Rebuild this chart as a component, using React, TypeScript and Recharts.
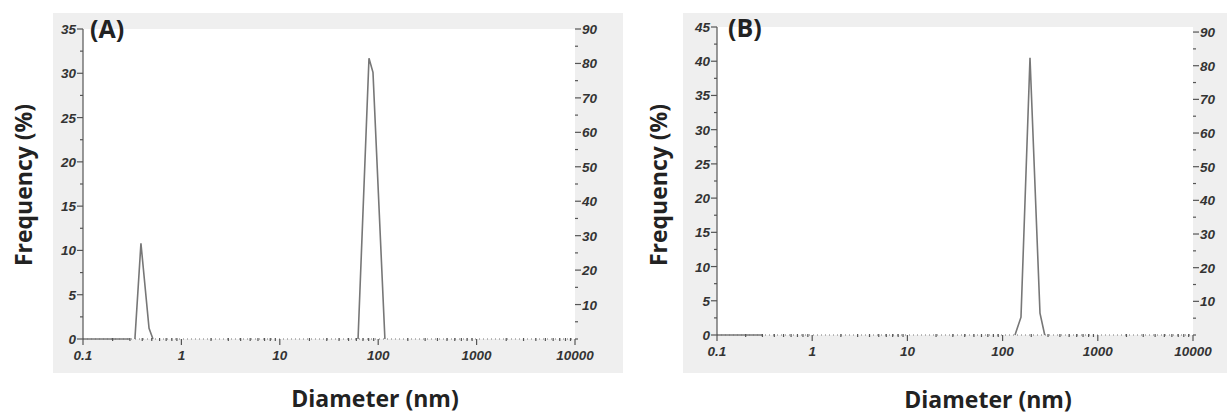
import { LineChart, Line, XAxis, YAxis, CartesianGrid } from 'recharts';

// panel A: baseline stub, small peak, main peak
const aBaseSize = [0.1, 0.3];
const aBaseFreq = [0, 0];
const aPeak1Size = [0.337, 0.388, 0.469, 0.514];
const aPeak1Freq = [0, 10.8, 1.2, 0];
const aPeak2Size = [62.4, 80.6, 88.5, 117];
const aPeak2Freq = [0, 31.7, 30.1, 0];

// panel B: baseline stub, single peak
const bBaseSize = [0.1, 0.3];
const bBaseFreq = [0, 0];
const bPeakSize = [135, 156, 194, 247, 277];
const bPeakFreq = [0, 2.6, 40.5, 3.2, 0];

const decades = [0.1, 1, 10, 100, 1000, 10000];
const decadeLabels = ['0.1', '1', '10', '100', '1000', '10000'];
const rightTicks = [0, 5, 10, 15, 20, 25, 30, 35, 40, 45, 50, 55, 60, 65, 70, 75, 80, 85, 90];
const leftTicksA = [0, 2.5, 5, 7.5, 10, 12.5, 15, 17.5, 20, 22.5, 25, 27.5, 30, 32.5, 35];
const leftTicksB = [0, 2.5, 5, 7.5, 10, 12.5, 15, 17.5, 20, 22.5, 25, 27.5, 30, 32.5, 35, 37.5, 40, 42.5, 45];

const xTicks: number[] = [];
decades.forEach((d, i) => {
  xTicks.push(d);
  if (i < decades.length - 1) {
    for (let m = 2; m <= 9; m++) xTicks.push(Number((m * d).toPrecision(3)));
  }
});

const toRows = (xs: number[], ys: number[]) => xs.map((d, i) => ({ d, f: ys[i] }));

const tickFont = {
  fontFamily: '"Liberation Sans", Arial, sans-serif',
  fontStyle: 'italic',
  fontWeight: 700,
  fontSize: 13.5,
  fill: '#333',
};
const titleFont = {
  fontFamily: '"Open Sans", sans-serif',
  fontWeight: 700,
  fontSize: 23,
  color: '#222',
  lineHeight: 1,
  whiteSpace: 'nowrap' as const,
};

const XTick = ({ x, y, payload }: any) => {
  const idx = decades.indexOf(payload.value);
  const major = idx >= 0;
  return (
    <g>
      <line x1={x} x2={x} y1={y - (major ? 0 : 1)} y2={y + (major ? 6 : 2)} stroke="#555" strokeWidth={1.2} />
      {major && (
        <text x={x} y={y + 21} textAnchor="middle" {...tickFont}>
          {decadeLabels[idx]}
        </text>
      )}
    </g>
  );
};

const LeftTick = ({ x, y, payload }: any) => {
  const major = payload.value % 5 === 0;
  return (
    <g>
      <line x1={x - (major ? 6 : 3)} x2={x} y1={y} y2={y} stroke="#555" strokeWidth={1.2} />
      {major && (
        <text x={x - 7} y={y + 5} textAnchor="end" {...tickFont}>
          {payload.value}
        </text>
      )}
    </g>
  );
};

const RightTick = ({ x, y, payload }: any) => {
  const major = payload.value % 10 === 0 && payload.value > 0;
  return (
    <g>
      <line x1={x} x2={x + (major ? 6 : 3)} y1={y} y2={y} stroke="#555" strokeWidth={1.2} />
      {major && (
        <text x={x + 7} y={y + 5} textAnchor="start" {...tickFont}>
          {payload.value}
        </text>
      )}
    </g>
  );
};

function Panel({
  width, height, margin, leftWidth, leftMax, leftTicks, rightMax, segments,
}: {
  width: number; height: number; margin: any; leftWidth: number; leftMax: number;
  leftTicks: number[]; rightMax: number; segments: { d: number; f: number }[][];
}) {
  return (
    <LineChart width={width} height={height} margin={margin}>
      <CartesianGrid horizontal={false} vertical={false} fill="#fff" stroke="none" />
      <XAxis
        dataKey="d"
        type="number"
        scale="log"
        domain={[0.1, 10000]}
        ticks={xTicks}
        interval={0}
        allowDataOverflow
        height={30}
        tickSize={0}
        tickMargin={0}
        tickLine={false}
        axisLine={{ stroke: '#777', strokeDasharray: '1 3', strokeWidth: 1.2 }}
        tick={<XTick />}
      />
      <YAxis
        yAxisId="left"
        type="number"
        domain={[0, leftMax]}
        ticks={leftTicks}
        interval={0}
        width={leftWidth}
        tickSize={0}
        tickMargin={0}
        tickLine={false}
        axisLine={{ stroke: '#555', strokeWidth: 1.2 }}
        tick={<LeftTick />}
      />
      <YAxis
        yAxisId="right"
        orientation="right"
        type="number"
        domain={[0, rightMax]}
        ticks={rightTicks}
        interval={0}
        allowDataOverflow
        width={30}
        tickSize={0}
        tickMargin={0}
        tickLine={false}
        axisLine={false}
        tick={<RightTick />}
      />
      {segments.map((seg, i) => (
        <Line
          key={i}
          yAxisId="left"
          data={seg}
          dataKey="f"
          type="linear"
          stroke="#777"
          strokeWidth={1.6}
          dot={false}
          activeDot={false}
          isAnimationActive={false}
        />
      ))}
    </LineChart>
  );
}

export default function App() {
  const segA = [toRows(aBaseSize, aBaseFreq), toRows(aPeak1Size, aPeak1Freq), toRows(aPeak2Size, aPeak2Freq)];
  const segB = [toRows(bBaseSize, bBaseFreq), toRows(bPeakSize, bPeakFreq)];
  return (
    <div style={{ position: 'absolute', left: 0, top: 0, width: 1227, height: 416, background: '#fff', overflow: 'hidden' }}>
      <div style={{ position: 'absolute', left: 53, top: 13, width: 570, height: 360, background: '#efefef' }}>
        <Panel
          width={570}
          height={360}
          margin={{ top: 16, right: 18, bottom: 4, left: 0 }}
          leftWidth={30}
          leftMax={35}
          leftTicks={leftTicksA}
          rightMax={90}
          segments={segA}
        />
      </div>
      <div style={{ position: 'absolute', left: 683, top: 13, width: 544, height: 360, background: '#efefef' }}>
        <Panel
          width={544}
          height={360}
          margin={{ top: 14, right: 4, bottom: 8, left: 0 }}
          leftWidth={34}
          leftMax={45}
          leftTicks={leftTicksB}
          rightMax={91.5}
          segments={segB}
        />
      </div>

      <div style={{ ...titleFont, fontSize: 25, position: 'absolute', left: 90, top: 16 }}>(A)</div>
      <div style={{ ...titleFont, fontSize: 25, position: 'absolute', left: 728, top: 15 }}>(B)</div>

      <div style={{ ...titleFont, position: 'absolute', left: 23, top: 185, transform: 'translate(-50%, -50%) rotate(-90deg)' }}>
        Frequency (%)
      </div>
      <div style={{ ...titleFont, position: 'absolute', left: 658, top: 185, transform: 'translate(-50%, -50%) rotate(-90deg)' }}>
        Frequency (%)
      </div>
      <div style={{ ...titleFont, position: 'absolute', left: 375, top: 398, transform: 'translate(-50%, -50%)' }}>
        Diameter (nm)
      </div>
      <div style={{ ...titleFont, position: 'absolute', left: 988, top: 399, transform: 'translate(-50%, -50%)' }}>
        Diameter (nm)
      </div>
    </div>
  );
}
